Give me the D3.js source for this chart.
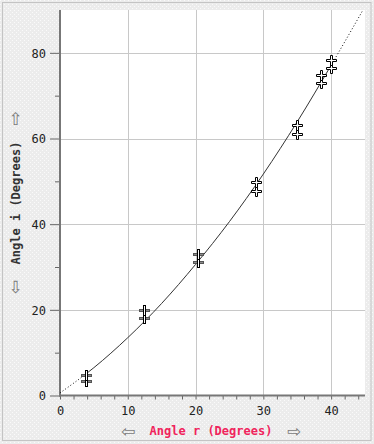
<!DOCTYPE html>
<html><head><meta charset="utf-8">
<script src="https://cdn.jsdelivr.net/npm/d3@7"></script>
<style>html,body{margin:0;padding:0;background:#fff;}svg{display:block;}</style>
</head><body>
<svg id="chart" width="374" height="444"></svg>
<script>
// Measured refraction angles (two readings per point)
const rLower = [3.9, 12.4, 20.4];
const iLowerA = [4.9, 20.0, 33.0];
const iLowerB = [3.3, 18.2, 31.1];
const rUpper = [28.9, 35.0, 38.5, 40.0];
const iUpperA = [49.8, 63.1, 74.8, 78.4];
const iUpperB = [47.7, 61.1, 72.9, 76.4];
// Fitted curve
const curveR = [0, 5, 10, 15, 20, 25, 30, 35, 40, 44.7];
const curveI = [0.6, 6.5, 13.5, 21.5, 30.6, 40.6, 51.7, 63.9, 77.1, 90];
const xTicks = [0, 10, 20, 30, 40];
const yTicks = [0, 20, 40, 60, 80];
const xTitle = "Angle r (Degrees)";
const yTitle = "Angle i (Degrees)";

const svg = d3.select("#chart");
const W = 374, H = 444;
const mono = "'DejaVu Sans Mono', monospace";

// background texture
const defs = svg.append("defs");
const pat = defs.append("pattern").attr("id","tex").attr("width",4).attr("height",4).attr("patternUnits","userSpaceOnUse");
pat.append("rect").attr("width",4).attr("height",4).attr("fill","#ececec");
pat.append("rect").attr("x",0).attr("y",0).attr("width",1).attr("height",1).attr("fill","#fafafa");
pat.append("rect").attr("x",2).attr("y",2).attr("width",1).attr("height",1).attr("fill","#fafafa");
svg.append("rect").attr("width",W).attr("height",H).attr("fill","url(#tex)");
svg.append("rect").attr("x",2.5).attr("y",2.5).attr("width",368.5).attr("height",438).attr("fill","none").attr("stroke","#c4c4c4");

const x = d3.scaleLinear().domain([0,45]).range([60,365]);
const y = d3.scaleLinear().domain([0,90]).range([395.5,10]);

// plot area
svg.append("rect").attr("x",x(0)).attr("y",y(90)).attr("width",x(45)-x(0)).attr("height",y(0)-y(90)).attr("fill","#fff");

// grid
const grid = svg.append("g").attr("stroke","#c8c8c8").attr("stroke-width",1);
grid.selectAll("line.gx").data(xTicks.filter(d=>d>0)).join("line")
  .attr("x1",d=>Math.round(x(d))+0.5).attr("x2",d=>Math.round(x(d))+0.5)
  .attr("y1",y(90)).attr("y2",y(0));
grid.selectAll("line.gy").data(yTicks.filter(d=>d>0)).join("line")
  .attr("y1",d=>Math.round(y(d))+0.5).attr("y2",d=>Math.round(y(d))+0.5)
  .attr("x1",x(0)).attr("x2",x(45));

// axes
const xAxis = d3.axisBottom(x).tickValues(d3.range(0,45,2)).tickSize(4).tickFormat(d=> xTicks.includes(d)? d : "");
const gx = svg.append("g").attr("transform",`translate(0,${y(0)})`).call(xAxis);
gx.select(".domain").remove();
gx.selectAll(".tick line").attr("stroke","#666");
gx.selectAll(".tick text").attr("font-family",mono).attr("font-size",12).attr("fill","#222").attr("dy","1.05em");
svg.append("line").attr("x1",x(0)-1).attr("x2",x(45)).attr("y1",y(0)).attr("y2",y(0)).attr("stroke","#777").attr("stroke-width",2);

const yAxis = d3.axisLeft(y).tickValues(d3.range(0,90,10)).tickSize(0).tickFormat(d=> yTicks.includes(d)? d : "");
const gy = svg.append("g").attr("transform",`translate(${x(0)},0)`).call(yAxis);
gy.select(".domain").remove();
gy.selectAll(".tick").append("line").attr("x1",0).attr("x2",d=>yTicks.includes(d)?-10:-5).attr("stroke","#666");
gy.selectAll(".tick text").attr("font-family",mono).attr("font-size",12).attr("fill","#222").attr("x",-14).attr("dy","0.35em");
svg.append("line").attr("x1",x(0)).attr("x2",x(0)).attr("y1",y(90)).attr("y2",y(0)+1).attr("stroke","#777").attr("stroke-width",2);

// curve
const pts = curveR.map((r,k)=>[r,curveI[k]]);
const allR = rLower.concat(rUpper);
const rMin = d3.min(allR), rMax = d3.max(allR);
const line = d3.line().x(d=>x(d[0])).y(d=>y(d[1])).curve(d3.curveMonotoneX);
defs.append("clipPath").attr("id","cIn").append("rect").attr("x",x(rMin)).attr("y",0).attr("width",x(rMax)-x(rMin)).attr("height",H);
const cOut = defs.append("clipPath").attr("id","cOut");
cOut.append("rect").attr("x",x(0)).attr("y",0).attr("width",x(rMin)-x(0)).attr("height",H);
cOut.append("rect").attr("x",x(rMax)).attr("y",0).attr("width",x(45)-x(rMax)).attr("height",H);
svg.append("path").datum(pts).attr("d",line).attr("fill","none").attr("stroke","#333").attr("stroke-width",1).attr("clip-path","url(#cIn)");
svg.append("path").datum(pts).attr("d",line).attr("fill","none").attr("stroke","#111").attr("stroke-width",1).attr("stroke-dasharray","1,2.2").attr("clip-path","url(#cOut)");

// markers
function crossPath(cx, cy){
  const a=5, t=1;
  return `M${cx-t},${cy-a}h${2*t}v${a-t}h${a-t}v${2*t}h${-(a-t)}v${a-t}h${-2*t}v${-(a-t)}h${-(a-t)}v${-2*t}h${a-t}z`;
}
const px = v=>Math.round(x(v))+0.5, py = v=>Math.round(y(v))+0.5;
const upperPts = [];
rUpper.forEach((r,k)=>{ upperPts.push([r,iUpperB[k]]); upperPts.push([r,iUpperA[k]]); });
svg.append("g").selectAll("path").data(upperPts).join("path")
  .attr("d",d=>crossPath(px(d[0]),py(d[1]))).attr("fill","#fff").attr("stroke","#000").attr("stroke-width",1);

const lowerPts = [];
rLower.forEach((r,k)=>{ lowerPts.push([r,iLowerB[k]]); lowerPts.push([r,iLowerA[k]]); });
const gl = svg.append("g");
gl.selectAll("rect.h").data(lowerPts).join("rect")
  .attr("x",d=>px(d[0])-5).attr("y",d=>py(d[1])-1).attr("width",10).attr("height",2)
  .attr("fill","#8a8a8a").attr("stroke","#555").attr("stroke-width",1);
gl.selectAll("rect.v").data(lowerPts).join("rect")
  .attr("x",d=>px(d[0])-1).attr("y",d=>py(d[1])-5).attr("width",2).attr("height",10)
  .attr("fill","#fff").attr("stroke","#000").attr("stroke-width",1);

// titles
svg.append("text").attr("x",211).attr("y",435).attr("text-anchor","middle")
  .attr("font-family",mono).attr("font-size",12).attr("font-weight","bold").attr("fill","#f0245c").text(xTitle);
const arrowFont = {"font-family":"'DejaVu Sans'","font-size":17,"fill":"#7a7a7a"};
function arrow(xp, yp, ch){
  const t = svg.append("text").attr("x",xp).attr("y",yp).attr("text-anchor","middle").text(ch);
  Object.entries(arrowFont).forEach(([k,v])=>t.attr(k,v));
}
arrow(128, 437, "\u21E6");
arrow(294, 437, "\u21E8");

svg.append("text").attr("transform","translate(20,203) rotate(-90)").attr("text-anchor","middle")
  .attr("font-family",mono).attr("font-size",12).attr("font-weight","bold").attr("fill","#333").text(yTitle);
arrow(15.5, 125, "\u21E7");
arrow(15.5, 293, "\u21E9");
</script>
</body></html>
